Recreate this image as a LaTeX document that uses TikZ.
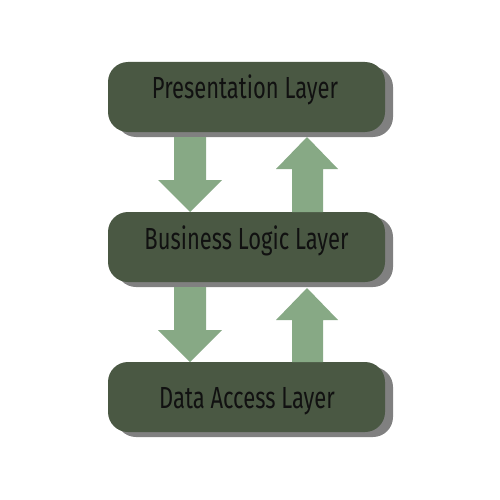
\documentclass[tikz,border=0pt]{standalone}
\usepackage{fontspec}
\setmainfont{Fira Sans}
\definecolor{boxfill}{HTML}{4A5843}
\definecolor{shadowc}{HTML}{808080}
\definecolor{arrowc}{HTML}{87A985}
\definecolor{textc}{HTML}{111111}
\tikzset{
  layerbox/.style={fill=boxfill, rounded corners=20pt},
  shadowbox/.style={fill=shadowc, rounded corners=20pt},
  blockarrow/.style={fill=arrowc, draw=none},
  layertext/.style={font=\fontsize{30.5}{32}\selectfont, text=textc, inner sep=0pt}
}
\newcommand{\cond}[1]{\scalebox{0.72}[1]{#1}}
\begin{document}
\begin{tikzpicture}[x=1pt,y=-1pt]
\useasboundingbox (0,0) rectangle (500,500);
% shadows
\fill[shadowbox] (116,67) rectangle (393,137);
\fill[shadowbox] (116,217) rectangle (393,287);
\fill[shadowbox] (116,367) rectangle (393,437);
% boxes
\fill[layerbox] (108,62) rectangle (385,132);
\fill[layerbox] (108,212) rectangle (385,282);
\fill[layerbox] (108,362) rectangle (385,432);
% texts
\node[layertext, anchor=base] (pres) at (245,99) {\cond{Presentation Layer}};
\node[layertext, anchor=base] (bus) at (246.5,249) {\cond{Business Logic Layer}};
\node[layertext, anchor=base] (data) at (247,408) {\cond{Data Access Layer}};
% arrows
\fill[blockarrow] (174,137) -- (206,137) -- (206,180) -- (222,180) -- (190,212) -- (158,180) -- (174,180) -- cycle;
\fill[blockarrow] (292,212) -- (323,212) -- (323,169) -- (338,169) -- (307,137) -- (276,169) -- (292,169) -- cycle;
\fill[blockarrow] (174,287) -- (206,287) -- (206,330) -- (222,330) -- (190,362) -- (158,330) -- (174,330) -- cycle;
\fill[blockarrow] (292,362) -- (323,362) -- (323,320) -- (338,320) -- (307,288) -- (276,320) -- (292,320) -- cycle;
\end{tikzpicture}
\end{document}
